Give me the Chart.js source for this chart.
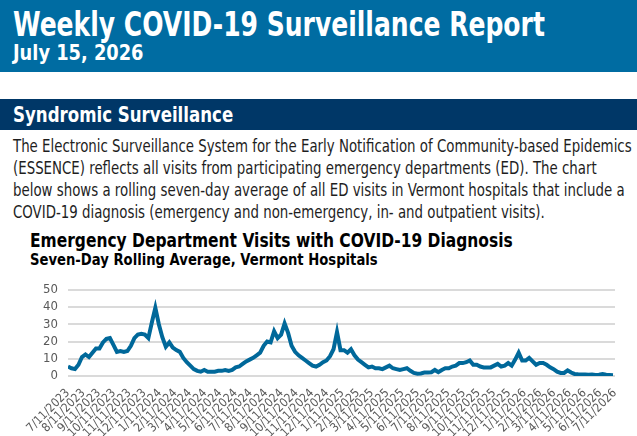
<!DOCTYPE html>
<html>
<head>
<meta charset="utf-8">
<script src="https://cdn.jsdelivr.net/npm/chart.js@4.4.1/dist/chart.umd.min.js"></script>
<style>
  html, body { margin: 0; padding: 0; width: 637px; height: 436px; overflow: hidden; background: #fff; }
  body { position: relative; font-family: 'Liberation Sans Narrow', 'DejaVu Sans Condensed', Roboto, sans-serif; }
  .fit { position: absolute; white-space: nowrap; line-height: 1; transform-origin: 0 0; }
  #banner { position: absolute; left: 0; top: 0; width: 637px; height: 72px; background: #006ca2; }
  #title { left: 13px; top: 7px; font-size: 34px; font-weight: bold; color: #fff; }
  #date { left: 13px; top: 43px; font-size: 21px; font-weight: bold; color: #fff; }
  #section { position: absolute; left: 0; top: 99px; width: 637px; height: 31px; background: #003767; }
  #sectionTitle { left: 13px; top: 104px; font-size: 22px; font-weight: bold; color: #fff; }
  .para { left: 13px; font-size: 17px; color: #1e1e1e; }
  #chartTitle { left: 30px; top: 231px; font-size: 19px; font-weight: bold; color: #000; font-family: 'DejaVu Sans', sans-serif; }
  #chartSub { left: 30px; top: 253px; font-size: 15px; font-weight: bold; color: #000; font-family: 'DejaVu Sans', sans-serif; }
  #chartBox { position: absolute; left: 0; top: 272px; width: 637px; height: 164px; }
</style>
</head>
<body>
<div id="banner"></div>
<div id="title" class="fit" data-w="532">Weekly COVID-19 Surveillance Report</div>
<div id="date" class="fit" data-w="130">July 15, 2026</div>
<div id="section"></div>
<div id="sectionTitle" class="fit" data-w="220">Syndromic Surveillance</div>
<div id="para1" class="fit para" style="top:138px" data-w="619">The Electronic Surveillance System for the Early Notification of Community-based Epidemics</div>
<div class="fit para" style="top:160px">(ESSENCE) reflects all visits from participating emergency departments (ED). The chart</div>
<div class="fit para" style="top:182px">below shows a rolling seven-day average of all ED visits in Vermont hospitals that include a</div>
<div class="fit para" style="top:204px">COVID-19 diagnosis (emergency and non-emergency, in- and outpatient visits).</div>
<div id="chartTitle" class="fit" data-w="483">Emergency Department Visits with COVID-19 Diagnosis</div>
<div id="chartSub" class="fit" data-w="348">Seven-Day Rolling Average, Vermont Hospitals</div>
<div id="chartBox"><canvas id="edChart" width="637" height="164"></canvas></div>

<script>
  // first day of the series, one value per week from here on
  const startDate = '7/11/2023';

  const monthLabels = [
    '7/11/2023', '8/11/2023', '9/11/2023', '10/11/2023', '11/11/2023', '12/11/2023',
    '1/11/2024', '2/11/2024', '3/11/2024', '4/11/2024', '5/11/2024', '6/11/2024',
    '7/11/2024', '8/11/2024', '9/11/2024', '10/11/2024', '11/11/2024', '12/11/2024',
    '1/11/2025', '2/11/2025', '3/11/2025', '4/11/2025', '5/11/2025', '6/11/2025',
    '7/11/2025', '8/11/2025', '9/11/2025', '10/11/2025', '11/11/2025', '12/11/2025',
    '1/11/2026', '2/11/2026', '3/11/2026', '4/11/2026', '5/11/2026', '6/11/2026',
    '7/11/2026'
  ];

  // seven-day rolling average of ED visits
  const weeklyVisits = [
    5.5, 4.5, 4, 6.5, 11, 12.5, 11, 13.5, 16, 16,
    19.5, 21.5, 22, 18, 14, 14.5, 14, 14.5, 17.5, 22,
    24, 24.5, 24, 22, 31, 39.5, 30, 22.5, 17, 19.5,
    16.5, 15, 14, 10.5, 8, 6, 4, 3, 2.5, 3.5,
    2.5, 2.5, 2.5, 3, 3, 3.5, 3, 3.5, 5, 5.5,
    7, 8.5, 9.5, 10.5, 12, 13.5, 17.5, 20, 19.5, 26,
    22, 24, 30.5, 25, 17.5, 14, 12, 10.5, 9, 7.5,
    6, 5.5, 6.5, 8, 9, 11.5, 15.5, 25.5, 15, 15,
    13.5, 15.5, 12, 9.5, 8, 6.5, 5, 5.5, 4.5, 4.5,
    4, 5, 6, 4.5, 4, 3.5, 4, 4.5, 3, 1.8,
    1.3, 1.5, 2, 2, 2.2, 3.5, 2.2, 3.5, 4.5, 4.5,
    5.5, 6, 7.5, 7.5, 8, 9, 6.5, 6.5, 5.5, 5,
    5, 5, 6, 7, 5.5, 6, 7.5, 6, 9.5, 13.5,
    9, 9, 10.5, 8.5, 6.5, 7.5, 7.5, 6.5, 5, 4,
    2.5, 1.8, 1.8, 3.3, 2, 1.2, 1, 0.9, 0.8, 0.7,
    0.8, 0.6, 0.8, 1.2, 0.7, 0.6, 0.5
  ];

  const yTicks = [0, 10, 20, 30, 40, 50];

  const toDay = (label) => {
    const [m, d, y] = label.split('/').map(Number);
    const [m0, d0, y0] = startDate.split('/').map(Number);
    return Math.round((Date.UTC(y, m - 1, d) - Date.UTC(y0, m0 - 1, d0)) / 86400000);
  };

  const tickDays = monthLabels.map(toDay);

  function fitText() {
    // paragraph lines all share the squeeze of the first line
    const para1 = document.getElementById('para1');
    const paraScale = Number(para1.dataset.w) / para1.offsetWidth;
    document.querySelectorAll('.fit').forEach(el => {
      const scale = el.dataset.w ? Number(el.dataset.w) / el.offsetWidth : paraScale;
      el.style.transform = `scaleX(${scale})`;
    });
  }

  function renderChart() {
    new Chart(document.getElementById('edChart').getContext('2d'), {
      type: 'line',
      data: {
        datasets: [{
          data: weeklyVisits.map((v, i) => ({ x: i * 7, y: v })),
          borderColor: '#00689a',
          borderWidth: 4,
          pointRadius: 0,
          tension: 0,
          fill: false
        }]
      },
      options: {
        responsive: false,
        animation: false,
        devicePixelRatio: 1,
        layout: { padding: { top: 1, right: 22, left: 0, bottom: 0 } },
        scales: {
          x: {
            type: 'linear',
            min: 0,
            max: tickDays[tickDays.length - 1],
            afterBuildTicks: scale => { scale.ticks = tickDays.map(value => ({ value })); },
            afterFit: scale => { scale.height = 60; },
            grid: { display: false },
            border: { display: false },
            ticks: {
              autoSkip: false,
              minRotation: 45,
              maxRotation: 45,
              padding: 2,
              color: '#595959',
              font: { family: 'Liberation Sans Narrow, DejaVu Sans Condensed, sans-serif', size: 12 },
              callback: (value, index) => monthLabels[index]
            }
          },
          y: {
            min: 0,
            max: 50,
            afterBuildTicks: scale => { scale.ticks = yTicks.map(value => ({ value })); },
            afterFit: scale => { scale.width = 68; },
            grid: { color: '#dadada', lineWidth: 2, drawTicks: false },
            border: { display: false },
            ticks: {
              autoSkip: false,
              padding: 10,
              color: '#595959',
              font: { family: 'Liberation Sans Narrow, DejaVu Sans Condensed, sans-serif', size: 13 }
            }
          }
        },
        plugins: {
          legend: { display: false },
          tooltip: { enabled: false }
        }
      }
    });
  }

  fitText();
  renderChart();
</script>
</body>
</html>
